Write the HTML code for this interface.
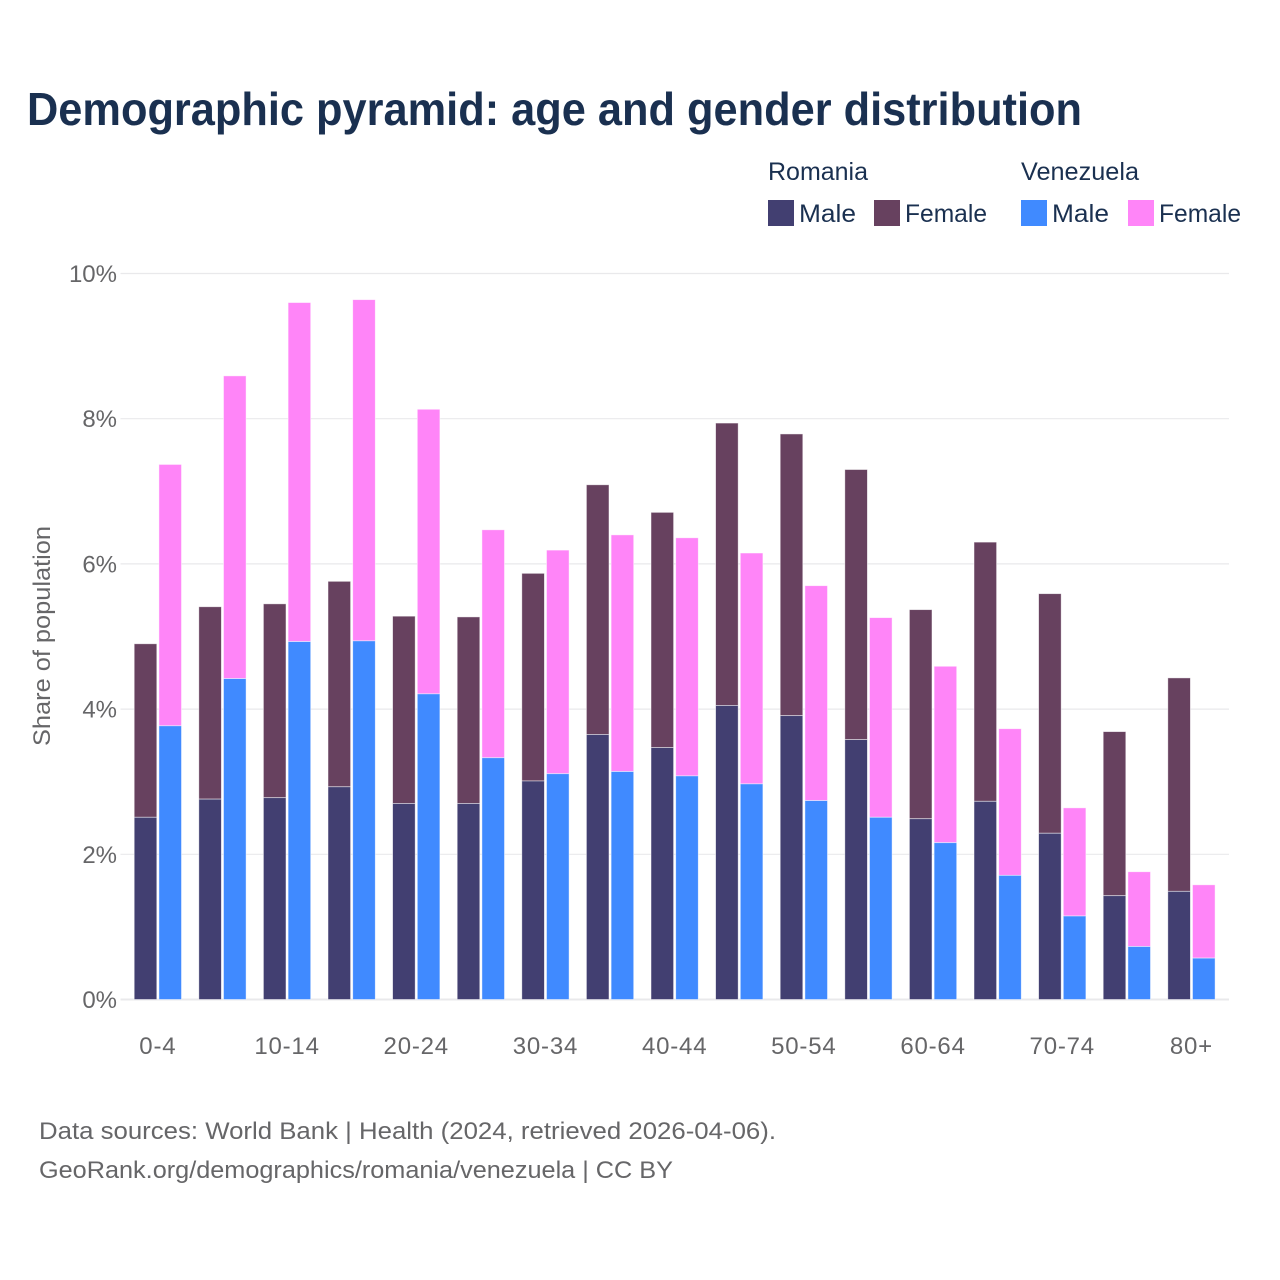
<!DOCTYPE html>
<html lang="en">
<head>
<meta charset="utf-8">
<title>Demographic pyramid: age and gender distribution</title>
<style>
html,body{margin:0;padding:0;background:#fff;}
svg{display:block;font-family:"Liberation Sans",sans-serif;}
.tick{font-size:24px;fill:#666668;}
.xtick{letter-spacing:0.8px;}
.legend{font-size:25px;fill:#1a3050;}
.foot{font-size:24.5px;fill:#666668;}
</style>
</head>
<body>
<svg id="chart" width="1280" height="1280" viewBox="0 0 1280 1280" xmlns="http://www.w3.org/2000/svg">
  <rect x="0" y="0" width="1280" height="1280" fill="#ffffff"/>
  <text x="27" y="125" font-size="46" font-weight="700" fill="#1a3050" textLength="1055" lengthAdjust="spacingAndGlyphs">Demographic pyramid: age and gender distribution</text>

  <g>
    <text class="legend" x="768" y="180" textLength="100" lengthAdjust="spacingAndGlyphs">Romania</text>
    <text class="legend" x="1021" y="180" textLength="118" lengthAdjust="spacingAndGlyphs">Venezuela</text>
    <rect x="768" y="200" width="26" height="26" fill="#423f71"/>
    <text class="legend" x="799" y="222" textLength="57" lengthAdjust="spacingAndGlyphs">Male</text>
    <rect x="874" y="200" width="26" height="26" fill="#67415f"/>
    <text class="legend" x="905" y="222" textLength="82" lengthAdjust="spacingAndGlyphs">Female</text>
    <rect x="1021" y="200" width="26" height="26" fill="#408aff"/>
    <text class="legend" x="1052" y="222" textLength="57" lengthAdjust="spacingAndGlyphs">Male</text>
    <rect x="1128" y="200" width="26" height="26" fill="#ff85f8"/>
    <text class="legend" x="1159" y="222" textLength="82" lengthAdjust="spacingAndGlyphs">Female</text>
  </g>

  <g id="grid"></g>
  <g id="bars"></g>
  <g id="y-ticks"></g>
  <g id="x-ticks"></g>

  <text transform="translate(50,636) rotate(-90)" text-anchor="middle" font-size="24" fill="#666668" textLength="220" lengthAdjust="spacingAndGlyphs">Share of population</text>

  <text class="foot" x="39" y="1139" textLength="737" lengthAdjust="spacingAndGlyphs">Data sources: World Bank | Health (2024, retrieved 2026-04-06).</text>
  <text class="foot" x="39" y="1178" textLength="634" lengthAdjust="spacingAndGlyphs">GeoRank.org/demographics/romania/venezuela | CC BY</text>
</svg>
<script>
const ageGroups = ["0-4","5-9","10-14","15-19","20-24","25-29","30-34","35-39","40-44","45-49","50-54","55-59","60-64","65-69","70-74","75-79","80+"];
const xTickLabels = ["0-4","10-14","20-24","30-34","40-44","50-54","60-64","70-74","80+"];
const yTickValues = [0,2,4,6,8,10];
const romaniaMale = [2.51,2.76,2.78,2.93,2.70,2.70,3.01,3.65,3.47,4.05,3.91,3.58,2.49,2.73,2.29,1.43,1.49];
const romaniaFemale = [2.39,2.65,2.67,2.83,2.58,2.57,2.86,3.44,3.24,3.89,3.88,3.72,2.88,3.57,3.30,2.26,2.94];
const venezuelaMale = [3.77,4.42,4.93,4.94,4.21,3.33,3.11,3.14,3.08,2.97,2.74,2.51,2.16,1.71,1.15,0.73,0.57];
const venezuelaFemale = [3.60,4.17,4.67,4.70,3.92,3.14,3.08,3.26,3.28,3.18,2.96,2.75,2.43,2.02,1.49,1.03,1.01];

const NS = "http://www.w3.org/2000/svg";
const plotLeft = 120.5, plotRight = 1229, y0 = 999.5, pxPerUnit = 72.6;
const firstBar = 134.2, groupStep = 64.6, barWidth = 22.6, barOffset = 24.7;
const yScale = v => y0 - v * pxPerUnit;
const xScale = i => firstBar + i * groupStep;

const gridGroup = document.getElementById("grid");
const yTickGroup = document.getElementById("y-ticks");
yTickValues.forEach(v => {
  const line = document.createElementNS(NS, "line");
  
  
  line.setAttribute("x1", plotLeft);
  line.setAttribute("x2", plotRight);
  line.setAttribute("y1", yScale(v));
  line.setAttribute("y2", yScale(v));
  line.setAttribute("stroke", "#e9e9eb");
  line.setAttribute("stroke-width", v === 0 ? 2 : 1.2);
  gridGroup.appendChild(line);

  const label = document.createElementNS(NS, "text");
  
  
  label.setAttribute("class", "tick");
  label.setAttribute("x", 117);
  label.setAttribute("y", yScale(v) + 8.5);
  label.setAttribute("text-anchor", "end");
  label.textContent = v + "%";
  yTickGroup.appendChild(label);
});

function drawBar(i, offset, start, value, color, name) {
  const r = document.createElementNS(NS, "rect");
  
  
  r.setAttribute("x", xScale(i) + offset);
  r.setAttribute("y", yScale(start + value));
  r.setAttribute("width", barWidth);
  r.setAttribute("height", value * pxPerUnit);
  r.setAttribute("fill", color);
  r.setAttribute("stroke", "#ffffff");
  r.setAttribute("stroke-opacity", "0.6");
  r.setAttribute("stroke-width", "0.8");
  document.getElementById("bars").appendChild(r);
}

ageGroups.forEach((age, i) => {
  drawBar(i, 0, romaniaMale[i], romaniaFemale[i], "#67415f", "bar-romania-female");
  drawBar(i, 0, 0, romaniaMale[i], "#423f71", "bar-romania-male");
  drawBar(i, barOffset, venezuelaMale[i], venezuelaFemale[i], "#ff85f8", "bar-venezuela-female");
  drawBar(i, barOffset, 0, venezuelaMale[i], "#408aff", "bar-venezuela-male");
});

const xTickGroup = document.getElementById("x-ticks");
xTickLabels.forEach(t => {
  const i = ageGroups.indexOf(t);
  const label = document.createElementNS(NS, "text");
  
  
  label.setAttribute("class", "tick xtick");
  label.setAttribute("x", xScale(i) + (barOffset + barWidth) / 2);
  label.setAttribute("y", 1054);
  label.setAttribute("text-anchor", "middle");
  label.textContent = t;
  xTickGroup.appendChild(label);
});
</script>
</body>
</html>
